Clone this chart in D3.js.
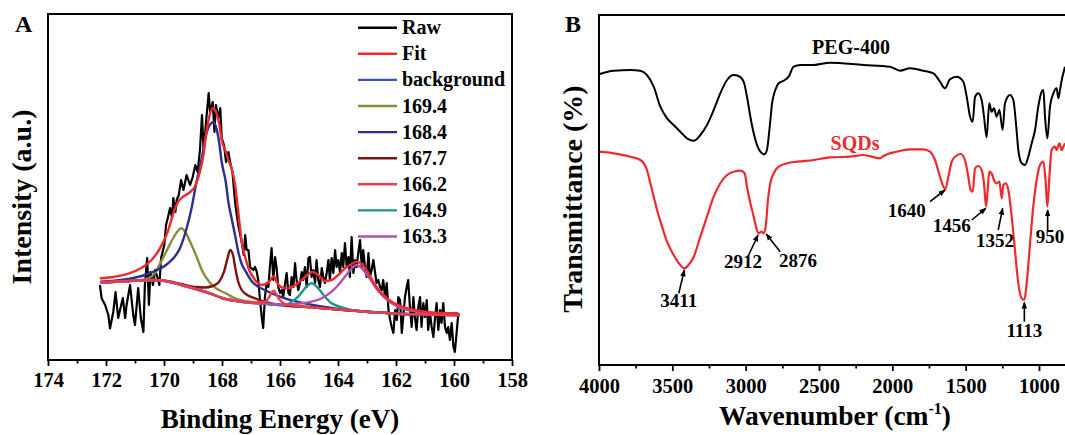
<!DOCTYPE html>
<html>
<head>
<meta charset="utf-8">
<script src="https://cdn.jsdelivr.net/npm/d3@7"></script>
<style>
html,body{margin:0;padding:0;background:#fff;overflow:hidden;}
svg{display:block;}
text{font-family:"Liberation Serif","Times New Roman",serif;font-weight:bold;}
</style>
</head>
<body>
<svg id="chart" width="1065" height="435"></svg>
<script>
// ---------------- Panel A data (XPS S 2p) ----------------
const energyTicks = [174,172,170,168,166,164,162,160,158];
const energyMinorTicks = [173,171,169,167,165,163,161,159];

const rawEnergy = [
172.21,172.15,172.03,171.92,171.86,171.75,171.67,171.58,171.42,171.34,
171.29,171.17,171.06,171.00,170.89,170.80,170.71,170.66,170.58,170.52,
170.47,170.38,170.31,170.25,170.16,170.10,169.99,169.93,169.87,169.79,
169.72,169.68,169.61,169.56,169.49,169.41,169.33,169.27,169.22,169.10,
169.01,168.92,168.84,168.76,168.69,168.63,168.55,168.46,168.41,168.32,
168.26,168.21,168.13,168.06,168.01,167.93,167.86,167.78,167.72,167.64,
167.55,167.44,167.32,167.25,167.20,167.15,167.09,167.03,166.92,166.86,
166.80,166.75,166.69,166.63,166.58,166.52,166.46,166.40,166.35,166.29,
166.23,166.17,166.12,166.06,166.00,165.94,165.89,165.83,165.77,165.71,
165.66,165.60,165.54,165.48,165.43,165.37,165.31,165.25,165.20,165.14,
165.08,165.02,164.97,164.91,164.85,164.79,164.74,164.68,164.62,164.56,
164.51,164.45,164.39,164.33,164.28,164.22,164.16,164.10,164.05,163.99,
163.93,163.87,163.82,163.76,163.70,163.64,163.59,163.53,163.47,163.41,
163.36,163.30,163.24,163.18,163.13,163.07,163.01,162.95,162.90,162.84,
162.78,162.72,162.67,162.61,162.55,162.49,162.44,162.38,162.32,162.26,
162.20,162.15,162.09,162.03,161.97,161.92,161.86,161.80,161.75,161.69,
161.63,161.58,161.52,161.46,161.40,161.35,161.29,161.23,161.17,161.12,
161.06,161.00,160.94,160.89,160.83,160.77,160.71,160.66,160.60,160.54,
160.48,160.43,160.37,160.31,160.25,160.20,160.14,160.08,160.02,159.97,
159.91,159.85];
const rawIntensity = [
75,61.7,55,45,31.7,48,68,42,62,42,
55,75,45,35,72,42,28,75,102,55,
88,75,90,85,75,102,115,135,142,152,
142,162,148,160,165,180,170,178,185,175,
183,195,188,210,245,208,238,267,248,258,
228,255,242,252,222,215,198,208,198,188,
158,135,118,105,125,110,110,93,90,93,
88,80,60,43,32,63,77,73,93,112,
80,103,93,73,67,70,63,75,87,67,
65,83,73,97,80,70,77,88,80,93,
73,102,103,83,90,77,100,80,73,92,
83,77,87,100,80,102,87,110,93,100,
88,107,93,117,93,103,83,123,87,100,
93,107,120,93,110,93,83,107,83,90,
100,87,77,80,73,70,80,63,77,50,
40,33,27,50,40,63,60,27,43,63,
73,80,53,33,63,43,30,53,63,33,
57,43,60,30,47,33,23,40,57,30,
50,37,57,33,27,33,20,37,13,8,
27,47];

const fitEnergy = [172.21,171.69,171.23,170.77,170.43,170.14,169.87,169.68,169.51,169.34,169.11,168.94,168.76,168.64,168.55,168.44,168.32,168.21,168.10,168.01,167.87,167.78,167.67,167.55,167.44,167.32,167.21,167.09,166.86,166.63,166.40,166.29,166.21,166.12,165.94,165.71,165.48,165.25,165.02,164.89,164.68,164.45,164.22,163.99,163.76,163.53,163.36,163.18,162.95,162.72,162.49,162.15,161.80,161.23,160.66,159.85];
const fitIntensity = [81.7,83.3,86.3,92.3,100,111.7,128.3,146.7,158.3,163.3,167.7,173.3,188.3,205,225,243.3,251.7,248.3,236.7,220,208.3,200,191.7,175,148,118,104,92,80,75,77.3,81.7,84,78.3,72.7,71.7,75,80,86,88,85,79,80,85,91.7,96,98.3,96,86.7,75,66.7,58.3,53.3,49.3,47.3,46.7];

const bgEnergy = [172.2,171.2,170.3,169.8,169.4,168.9,168.4,168.0,167.5,167.0,166.4,165.8,165.2,164.6,164.1,163.5,162.9,162.3,161.8,161.2,160.6,159.8];
const bgIntensity = [77.5,79,80,78,75,71,66.5,62,59,57.3,56,54.5,53.3,52,50.7,49.5,48,47,46,45.8,45.3,45];

const p1694Energy = [172.2,171.2,170.66,170.31,170.16,169.93,169.68,169.51,169.41,169.27,169.1,168.9,168.67,168.44,168.21,167.87,167.55,167.21,166.8,166.4,165.8,165.2,164.6,164.1,163.5,162.9,162.3,161.8,161.2,160.6,159.8];
const p1694Intensity = [77.5,79,80.5,87,95,108,122,129.5,131.7,128.3,118.3,105,88.3,78.3,71.7,66.7,61.7,59,57.5,56,54.5,53.3,52,50.7,49.5,48,47,46,45.8,45.3,45];

const p1684Energy = [172.2,171.23,170.66,170.31,169.93,169.68,169.45,169.22,169.05,168.9,168.7,168.55,168.38,168.3,168.21,168.1,168.01,167.87,167.78,167.67,167.55,167.44,167.32,167.21,166.98,166.4,165.83,165.25,164.68,163.87,163.5,162.9,162.3,161.8,161.2,160.6,159.8];
const p1684Intensity = [78.3,81,85,89,95,101.7,111.7,131.7,151.7,175,201.7,225,236.7,237.7,233.3,218,198,178,158,141.7,125,108.3,96,90,79,68.3,61.7,57.3,54,50.7,49.5,48,47,46,45.8,45.3,45];

const p1677Energy = [172.2,171.2,170.3,169.8,169.4,168.9,168.6,168.32,168.1,167.93,167.81,167.72,167.62,167.55,167.44,167.32,167.21,166.86,166.4,165.8,165.2,164.6,164.1,163.5,162.9,162.3,161.8,161.2,160.6,159.8];
const p1677Intensity = [77.5,79,80,78.5,76,73,72.5,74,78.3,88.3,101.7,110,105,93.3,78.3,70,66.7,61.7,57.3,54.5,53.3,52,50.7,49.5,48,47,46,45.8,45.3,45];

const p1662Energy = [172.2,171.2,170.3,169.8,169.4,168.9,168.4,168.0,167.5,167.0,166.52,166.4,166.29,166.21,166.12,166.0,165.83,165.5,165.2,164.6,164.1,163.5,162.9,162.3,161.8,161.2,160.6,159.8];
const p1662Intensity = [77.5,79,80,78,75,71,66.5,62,59,57.3,58.3,61.7,67.3,69.3,65,60,56,54.3,53.3,52,50.7,49.5,48,47,46,45.8,45.3,45];

const p1649Energy = [172.2,171.2,170.3,169.8,169.4,168.9,168.4,168.0,167.5,167.0,166.4,165.8,165.6,165.37,165.14,164.91,164.68,164.45,164.22,163.87,163.5,162.9,162.3,161.8,161.2,160.6,159.8];
const p1649Intensity = [77.5,79,80,78,75,71,66.5,62,59,57.3,56,55,58.3,63.3,71.7,76.7,71.7,63.3,56.7,52.7,49.8,48,47,46,45.8,45.3,45];

const p1633Energy = [172.2,171.2,170.3,169.8,169.4,168.9,168.4,168.0,167.5,167.0,166.4,165.8,165.25,164.91,164.56,164.22,163.99,163.76,163.53,163.36,163.18,162.95,162.72,162.49,162.15,161.8,161.23,160.66,159.85];
const p1633Intensity = [77.5,79,80,78,75,71,66.5,62,59,57.3,56.3,55.3,56.7,58.3,61.7,68.3,75,83.3,91.7,95,91.7,83.3,73.3,65,56.7,51.7,48.3,46.7,46];

const legendLabels = ["Raw","Fit","background","169.4","168.4","167.7","166.2","164.9","163.3"];
const legendColors = ["#000000","#ee2a2a","#3a55b4","#8b8b3c","#2e2e8f","#7b1515","#ee3b4e","#1f958a","#b04fb5"];

// ---------------- Panel B data (FT-IR) ----------------
const waveTicks = [4000,3500,3000,2500,2000,1500,1000];
const waveMinorTicks = [3750,3250,2750,2250,1750,1250,750];

const pegWave = [3995,3900,3786,3718,3673,3627,3582,3536,3491,3446,
3400,3354,3309,3264,3218,3173,3127,3082,3048,3014,
2991,2968,2945,2923,2900,2873,2855,2836,2820,2798,
2775,2741,2707,2673,2627,2536,2425,2198,2016,1948,
1880,1789,1720,1675,1641,1607,1561,1516,1493,1470,
1452,1436,1414,1391,1375,1357,1339,1323,1307,1289,
1270,1248,1232,1198,1175,1157,1141,1118,1095,1073,
1050,1027,1005,982,970,959,943,925,902,880,
868,857,845,834,823];
const pegT = [291,294.3,295,294.3,290,278.3,258.3,246.7,240,233.3,
226.7,224.3,230,240,255,271.7,285,290,289,283.3,
268.3,248.3,231.7,220,213.3,210.7,215,238.3,261.7,275,
281.7,284.3,288.3,298.3,300,300,302.3,300,298.3,294.3,
296.7,294.3,291.7,283.3,276.7,285.7,288.3,283.3,268.3,248.3,
243.3,268.3,271.7,265,248.3,227.7,261.7,253.3,256.7,248.3,
255,235,261.7,270,265,241.7,215,201.7,200,208.3,
221.7,235,258.3,273.3,275,248.3,226.7,258.3,271.7,276.7,
266.7,275,285,291.7,298.3];

const sqdWave = [3995,3900,3786,3718,3673,3650,3627,3604,3570,3536,
3491,3446,3418,3390,3354,3309,3264,3218,3173,3127,
3082,3036,3007,2991,2968,2945,2927,2911,2893,2877,
2861,2848,2832,2809,2775,2718,2650,2536,2425,2289,
2198,2084,2061,1970,1880,1789,1743,1709,1675,1652,
1639,1618,1595,1566,1534,1505,1482,1466,1452,1436,
1414,1391,1375,1361,1350,1339,1323,1307,1289,1270,
1254,1243,1225,1209,1186,1164,1141,1118,1100,1084,
1061,1039,1016,993,970,954,943,929,914,891,
880,861,845,834,823];
const sqdT = [213.3,211.7,208.3,205,195,181.7,168.3,155,138.3,123.3,
110,100,96.7,100,108.3,128.3,148.3,168.3,181.7,190,
193.3,194.3,191.7,178.3,161.7,148.3,136.7,131.7,133.3,131.7,
141.7,165,181.7,191.7,198.3,201.7,203.3,205,207.7,208.3,
210,206.7,209,213.3,215.7,215.7,213.3,205,188.3,178.3,
175.7,188.3,203.3,209,211,205,188.3,175,173.3,196.7,
199,195,181.7,158.3,175,193.3,191.7,185,181.7,183.3,
166.7,180,181.7,175,148.3,115,81.7,66.7,65,81.7,
121.7,158.3,185,200,203.3,181.7,158.3,188.3,215,218.3,
215,221.7,215,218.3,221.7];

const peakLabels = ["3411","2912","2876","1640","1456","1352","1113","950"];
const peakWave   = [3418,2916,2860,1641,1363,1248,1100,941];
const peakT      = [95,130,131,175,156.7,156.7,62.7,155];

// ---------------- styles / layout (not data) ----------------
const peakArrowStyle = [ // tail offset and label offset (px) relative to arrow tip
  {tx:-5.6,ty:23.4,lx:-5.6,ly:36.7},
  {tx:-9.3,ty:20,lx:-15,ly:33.3},
  {tx:14,ty:17.7,lx:31.7,ly:32.7},
  {tx:-15,ty:11.7,lx:-38.3,ly:26.7},
  {tx:-14,ty:11.7,lx:-34,ly:23.4},
  {tx:-4.4,ty:21.7,lx:-7.7,ly:38.4},
  {tx:0,ty:19.4,lx:0,ly:35},
  {tx:0,ty:20,lx:2.3,ly:33.3}
];

const svg = d3.select("#chart");

// ======== Panel A ========
const A = {left:48,right:512,top:14,bottom:360};
const xA = d3.scaleLinear().domain([174,158]).range([A.left,A.right]);
const yA = d3.scaleLinear().domain([0,346]).range([A.bottom,A.top]);

const gA = svg.append("g");
const lineA = d3.line().x(d=>xA(d[0])).y(d=>yA(d[1]));
const smoothA = d3.line().x(d=>xA(d[0])).y(d=>yA(d[1])).curve(d3.curveMonotoneX);

const zip = (a,b)=>a.map((v,i)=>[v,b[i]]);

gA.append("path").datum(zip(rawEnergy,rawIntensity)).attr("d",lineA)
  .attr("fill","none").attr("stroke","#000").attr("stroke-width",2.2).attr("stroke-linejoin","round");

const comps = [
  [bgEnergy,bgIntensity,legendColors[2]],
  [p1694Energy,p1694Intensity,legendColors[3]],
  [p1684Energy,p1684Intensity,legendColors[4]],
  [p1677Energy,p1677Intensity,legendColors[5]],
  [p1649Energy,p1649Intensity,legendColors[7]],
  [p1633Energy,p1633Intensity,legendColors[8]],
  [p1662Energy,p1662Intensity,legendColors[6]],
  [fitEnergy,fitIntensity,legendColors[1]]
];
comps.forEach(c=>{
  gA.append("path").datum(zip(c[0],c[1])).attr("d",smoothA)
    .attr("fill","none").attr("stroke",c[2]).attr("stroke-width",2.4);
});

// frame
gA.append("rect").attr("x",A.left).attr("y",A.top).attr("width",A.right-A.left).attr("height",A.bottom-A.top)
  .attr("fill","none").attr("stroke","#000").attr("stroke-width",2);

// axis
const axA = gA.append("g").attr("transform",`translate(0,${A.bottom})`)
  .call(d3.axisBottom(xA).tickValues(energyTicks).tickSize(6).tickSizeOuter(0).tickFormat(d3.format("d")));
axA.select(".domain").remove();
axA.selectAll("line").attr("stroke-width",1.8);
axA.selectAll("text").attr("y",27).attr("dy",null).attr("font-size",20.5).attr("fill","#000")
  .style("font-family","'Liberation Serif',serif").style("font-weight","bold");
const axAm = gA.append("g").attr("transform",`translate(0,${A.bottom})`)
  .call(d3.axisBottom(xA).tickValues(energyMinorTicks).tickSize(3.5).tickSizeOuter(0).tickFormat(""));
axAm.select(".domain").remove();
axAm.selectAll("line").attr("stroke-width",1.8);

gA.append("text").attr("x",280).attr("y",428).attr("text-anchor","middle").attr("font-size",27)
  .text("Binding Energy (eV)");
gA.append("text").attr("transform","translate(31,197) rotate(-90)").attr("text-anchor","middle").attr("font-size",28)
  .text("Intensity (a.u.)");
gA.append("text").attr("x",15).attr("y",32).attr("font-size",24).text("A");

// legend
const leg = gA.append("g");
legendLabels.forEach((lab,i)=>{
  const y = 27.7 + i*26.1;
  leg.append("line").attr("x1",358).attr("x2",397).attr("y1",y).attr("y2",y)
    .attr("stroke",legendColors[i]).attr("stroke-width",2.4);
  leg.append("text").attr("x",402).attr("y",y+6.5).attr("font-size",20).text(lab);
});

// ======== Panel B ========
const B = {left:599,right:1127,top:15,bottom:365};
const xB = d3.scaleLinear().domain([4000,400]).range([B.left,B.right]);
const yB = d3.scaleLinear().domain([0,350]).range([B.bottom,B.top]);
const gB = svg.append("g");
const lineB = d3.line().x(d=>xB(d[0])).y(d=>yB(d[1])).curve(d3.curveMonotoneX);

gB.append("path").datum(zip(pegWave,pegT)).attr("d",lineB)
  .attr("fill","none").attr("stroke","#000").attr("stroke-width",2);
gB.append("path").datum(zip(sqdWave,sqdT)).attr("d",lineB)
  .attr("fill","none").attr("stroke","#ee2a2a").attr("stroke-width",2.2);

gB.append("rect").attr("x",B.left).attr("y",B.top).attr("width",B.right-B.left).attr("height",B.bottom-B.top)
  .attr("fill","none").attr("stroke","#000").attr("stroke-width",2);

const axB = gB.append("g").attr("transform",`translate(0,${B.bottom})`)
  .call(d3.axisBottom(xB).tickValues(waveTicks).tickSize(6).tickSizeOuter(0).tickFormat(d3.format("d")));
axB.select(".domain").remove();
axB.selectAll("line").attr("stroke-width",1.8);
axB.selectAll("text").attr("y",28).attr("dy",null).attr("font-size",20.5).attr("fill","#000")
  .style("font-family","'Liberation Serif',serif").style("font-weight","bold");
const axBm = gB.append("g").attr("transform",`translate(0,${B.bottom})`)
  .call(d3.axisBottom(xB).tickValues(waveMinorTicks).tickSize(3.5).tickSizeOuter(0).tickFormat(""));
axBm.select(".domain").remove();
axBm.selectAll("line").attr("stroke-width",1.8);

const tB = gB.append("text").attr("x",835).attr("y",425).attr("text-anchor","middle").attr("font-size",27.5);
tB.append("tspan").text("Wavenumber (cm");
tB.append("tspan").attr("font-size",16).attr("dy",-11).text("-1");
tB.append("tspan").attr("dy",11).text(")");
gB.append("text").attr("transform","translate(582,199) rotate(-90)").attr("text-anchor","middle").attr("font-size",28)
  .text("Transmittance (%)");
gB.append("text").attr("x",565).attr("y",32).attr("font-size",24).text("B");

gB.append("text").attr("x",851).attr("y",54).attr("text-anchor","middle").attr("font-size",20).text("PEG-400");
gB.append("text").attr("x",855).attr("y",150).attr("text-anchor","middle").attr("font-size",20).attr("fill","#ee2a2a").text("SQDs");

// arrow marker
svg.append("defs").append("marker").attr("id","arr").attr("viewBox","0 0 10 10").attr("refX",9).attr("refY",5)
  .attr("markerWidth",7).attr("markerHeight",7).attr("markerUnits","userSpaceOnUse").attr("orient","auto")
  .append("path").attr("d","M0,1 L10,5 L0,9 Z").attr("fill","#000");

peakLabels.forEach((lab,i)=>{
  const px = xB(peakWave[i]), py = yB(peakT[i]);
  const s = peakArrowStyle[i];
  gB.append("line").attr("x1",px+s.tx).attr("y1",py+s.ty).attr("x2",px).attr("y2",py)
    .attr("stroke","#000").attr("stroke-width",1.6).attr("marker-end","url(#arr)");
  gB.append("text").attr("x",px+s.lx).attr("y",py+s.ly).attr("text-anchor","middle").attr("font-size",19).text(lab);
});
</script>
</body>
</html>
